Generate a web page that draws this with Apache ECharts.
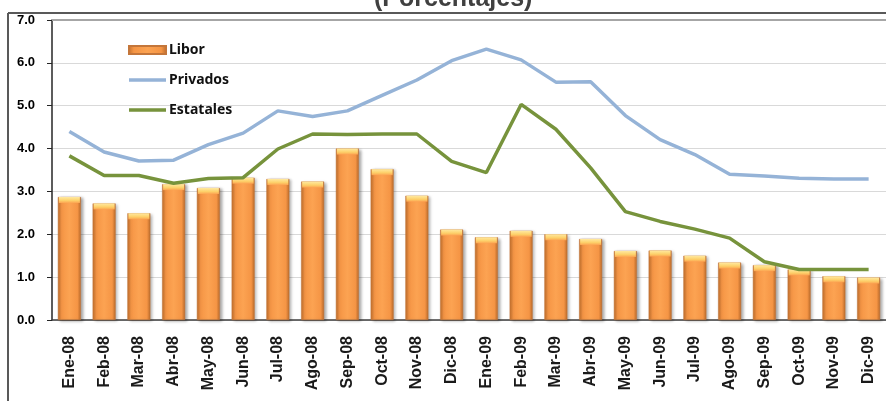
<!DOCTYPE html>
<html>
<head>
<meta charset="utf-8">
<script src="https://cdn.jsdelivr.net/npm/echarts@6/dist/echarts.min.js"></script>
<style>
	html, body { margin:0; padding:0; background:#fff; }
	#chart { width:886px; height:401px; }
</style>
</head>
<body>
<div id="chart"></div>
<script>
// meses
var meses = ['Ene-08','Feb-08','Mar-08','Abr-08','May-08','Jun-08','Jul-08','Ago-08','Sep-08','Oct-08','Nov-08','Dic-08',
	'Ene-09','Feb-09','Mar-09','Abr-09','May-09','Jun-09','Jul-09','Ago-09','Sep-09','Oct-09','Nov-09','Dic-09'];

var libor = [2.87, 2.72, 2.49, 3.17, 3.08, 3.32, 3.29, 3.23, 4.00, 3.52, 2.90, 2.11,
	1.93, 2.08, 2.00, 1.89, 1.61, 1.62, 1.50, 1.34, 1.28, 1.18, 1.02, 0.99];

var privados = [4.40, 3.92, 3.71, 3.73, 4.09, 4.36, 4.88, 4.75, 4.88, 5.24, 5.60, 6.05,
	6.32, 6.07, 5.55, 5.56, 4.77, 4.21, 3.86, 3.40, 3.36, 3.31, 3.29, 3.29];

var estatales = [3.83, 3.37, 3.37, 3.19, 3.30, 3.32, 3.99, 4.34, 4.33, 4.34, 4.34, 3.70,
	3.44, 5.03, 4.45, 3.55, 2.53, 2.30, 2.12, 1.91, 1.36, 1.18, 1.18, 1.18];

var yTicks = ['0.0','1.0','2.0','3.0','4.0','5.0','6.0','7.0'];

var myChart = echarts.init(document.getElementById('chart'));

var barColor = new echarts.graphic.LinearGradient(0, 0, 1, 0, [
	{offset:0, color:'#c06e2c'},
	{offset:0.15, color:'#f59545'},
	{offset:0.5, color:'#fca352'},
	{offset:0.85, color:'#f59545'},
	{offset:1, color:'#b8692a'}
]);

// icono de linea para la leyenda (sin punto)
var lineIcon = 'path://M0,0H0.1V0.1H0Z M0,2.3H37V5.7H0Z M0,7.9H0.1V8H0Z';

var option = {
	animation: false,
	grid: { left:52, top:20, width:840, bottom:81 },
	graphic: [
		// titulo cortado arriba
		{type:'text', left:374, top:-13, style:{text:'(Porcentajes)', font:'bold 25px Arial', fill:'#404040'}, z:10},
		// marco
		{type:'line', shape:{x1:8, y1:13, x2:886, y2:13}, style:{stroke:'#595959', lineWidth:2}, z:10},
		{type:'line', shape:{x1:8, y1:13, x2:8, y2:401}, style:{stroke:'#595959', lineWidth:2}, z:10},
		{type:'line', shape:{x1:52, y1:20, x2:886, y2:20}, style:{stroke:'#a6a6a6', lineWidth:2}, z:10}
	],
	legend: {
		orient:'vertical', left:123, top:37,
		itemWidth:37, itemHeight:8, itemGap:14,
		data:[{name:'Libor', icon:'rect'}, {name:'Privados', icon:lineIcon}, {name:'Estatales', icon:lineIcon}],
		textStyle:{fontFamily:'Noto Sans', fontWeight:'bold', fontSize:14, color:'#111', lineHeight:16, padding:[0,0,0,-2]}
	},
	xAxis: {
		type:'category', data:meses,
		axisLine:{lineStyle:{color:'#404040', width:1.5}},
		axisTick:{length:5, lineStyle:{color:'#404040'}},
		axisLabel:{rotate:90, margin:16, fontFamily:'Liberation Sans', fontWeight:'bold', fontSize:16, color:'#1a1a1a', interval:0}
	},
	yAxis: {
		type:'value', min:0, max:7, interval:1,
		axisLine:{show:true, lineStyle:{color:'#262626', width:1.5}},
		axisTick:{show:true, length:5, lineStyle:{color:'#262626'}},
		axisLabel:{margin:17, fontFamily:'Liberation Sans', fontWeight:'bold', fontSize:13, color:'#000',
			formatter:function(v){ return yTicks[Math.round(v)]; }},
		splitLine:{lineStyle:{color:'#d9d9d9', width:1}}
	},
	series: [
		{
			name:'Libor', type:'bar', data:libor, barWidth:23,
			itemStyle:{color:barColor, borderColor:'#c4763a', borderWidth:0.5,
				shadowBlur:3, shadowOffsetX:2, shadowOffsetY:1, shadowColor:'rgba(0,0,0,0.35)'},
			z:2
		},
		{
			// tapa amarilla de las barras
			name:'tapa', type:'pictorialBar', data:libor, symbol:'rect',
			symbolSize:[21,6], symbolPosition:'end', symbolOffset:[0,0],
			itemStyle:{color:new echarts.graphic.LinearGradient(0,0,0,1,[
				{offset:0, color:'#ffe9a0'}, {offset:0.6, color:'#fdd069'}, {offset:1, color:'#fca352'}])},
			z:3, silent:true
		},
		{
			name:'Privados', type:'line', data:privados, symbol:'none',
			lineStyle:{color:'#95b3d7', width:3.5}, itemStyle:{color:'#95b3d7'}, z:4
		},
		{
			name:'Estatales', type:'line', data:estatales, symbol:'none',
			lineStyle:{color:'#77933c', width:3.5}, itemStyle:{color:'#77933c'}, z:5
		}
	]
};

myChart.setOption(option);
</script>
</body>
</html>
